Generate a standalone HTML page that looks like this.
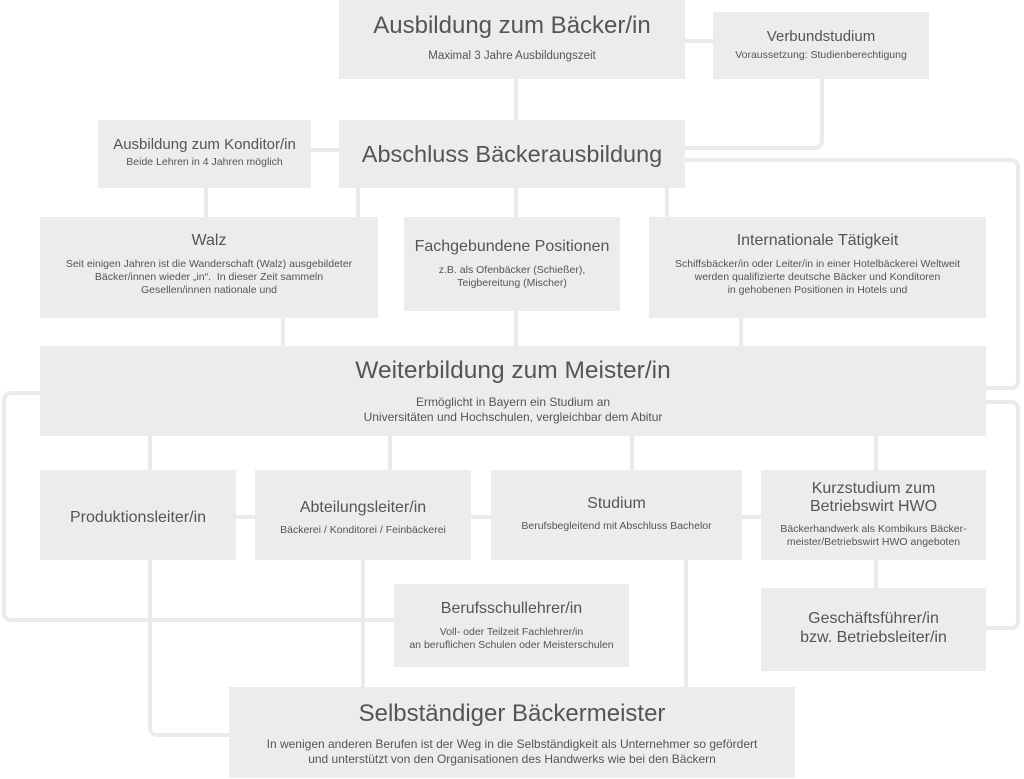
<!DOCTYPE html>
<html><head><meta charset="utf-8"><style>
body{margin:0;width:1024px;height:779px;background:#fff;position:relative;overflow:hidden;font-family:"Liberation Sans",sans-serif;color:#555}
.b{position:absolute;background:#ececec;text-align:center;box-sizing:border-box}
.t{font-size:16px;line-height:19px}
.s{font-size:10.5px;line-height:13px;color:#555}
svg{position:absolute;left:0;top:0}
</style></head><body>
<svg width="1024" height="779" fill="none" stroke="#ebebeb" stroke-width="4">
<path d="M516 79V120M685 41H713M822 79V140q0 8-8 8H685M311 150H339"/>
<path d="M685 160H1010q8 0 8 8V380q0 8-8 8H986"/>
<path d="M986 402H1010q8 0 8 8V620q0 8-8 8H986"/>
<path d="M40 393H12q-8 0-8 8V612q0 8 8 8H394"/>
<path d="M206 188V217M358 188V217M516 188V217M667 188V217M283 318V346M516 311V346M741 318V346"/>
<path d="M150 436V470M390 436V470M632 436V470M876 436V470"/>
<path d="M236 517H255M471 517H491M742 517H761"/>
<path d="M150 560V727q0 8 8 8H229M363 560V687M686 560V687M876 560V588"/>
</svg>
<div class="b" style="left:339px;top:0;width:346px;height:79px"><div style="font-size:24px;margin-top:12px">Ausbildung zum Bäcker/in</div><div class="s" style="margin-top:10px;font-size:11.5px">Maximal 3 Jahre Ausbildungszeit</div></div>
<div class="b" style="left:713px;top:12px;width:216px;height:67px"><div class="t" style="margin-top:15px;font-size:15px">Verbundstudium</div><div class="s" style="margin-top:3px">Voraussetzung: Studienberechtigung</div></div>
<div class="b" style="left:98px;top:120px;width:213px;height:68px"><div class="t" style="margin-top:15px;font-size:15px">Ausbildung zum Konditor/in</div><div class="s" style="margin-top:2px">Beide Lehren in 4 Jahren möglich</div></div>
<div class="b" style="left:339px;top:120px;width:346px;height:68px"><div style="font-size:23.5px;margin-top:21px">Abschluss Bäckerausbildung</div></div>
<div class="b" style="left:40px;top:217px;width:338px;height:101px"><div class="t" style="margin-top:14px">Walz</div><div class="s" style="margin-top:8px">Seit einigen Jahren ist die Wanderschaft (Walz) ausgebildeter<br>Bäcker/innen wieder „in“.&nbsp; In dieser Zeit sammeln<br>Gesellen/innen nationale und</div></div>
<div class="b" style="left:404px;top:217px;width:216px;height:94px"><div class="t" style="margin-top:20px">Fachgebundene Positionen</div><div class="s" style="margin-top:8px">z.B. als Ofenbäcker (Schießer),<br>Teigbereitung (Mischer)</div></div>
<div class="b" style="left:649px;top:217px;width:337px;height:101px"><div class="t" style="margin-top:14px">Internationale Tätigkeit</div><div class="s" style="margin-top:8px">Schiffsbäcker/in oder Leiter/in in einer Hotelbäckerei Weltweit<br>werden qualifizierte deutsche Bäcker und Konditoren<br>in gehobenen Positionen in Hotels und</div></div>
<div class="b" style="left:40px;top:346px;width:946px;height:90px"><div style="font-size:24.5px;margin-top:11px">Weiterbildung zum Meister/in</div><div class="s" style="margin-top:10px;font-size:12px;line-height:15px">Ermöglicht in Bayern ein Studium an<br>Universitäten und Hochschulen, vergleichbar dem Abitur</div></div>
<div class="b" style="left:40px;top:470px;width:196px;height:90px"><div class="t" style="margin-top:38px">Produktionsleiter/in</div></div>
<div class="b" style="left:255px;top:470px;width:216px;height:90px"><div class="t" style="margin-top:28px">Abteilungsleiter/in</div><div class="s" style="margin-top:7px">Bäckerei / Konditorei / Feinbäckerei</div></div>
<div class="b" style="left:491px;top:470px;width:251px;height:90px"><div class="t" style="margin-top:24px">Studium</div><div class="s" style="margin-top:7px">Berufsbegleitend mit Abschluss Bachelor</div></div>
<div class="b" style="left:761px;top:470px;width:225px;height:90px"><div class="t" style="margin-top:10px;line-height:18px">Kurzstudium zum<br>Betriebswirt HWO</div><div class="s" style="margin-top:7px">Bäckerhandwerk als Kombikurs Bäcker-<br>meister/Betriebswirt HWO angeboten</div></div>
<div class="b" style="left:394px;top:584px;width:235px;height:83px"><div class="t" style="margin-top:15px">Berufsschullehrer/in</div><div class="s" style="margin-top:8px">Voll- oder Teilzeit Fachlehrer/in<br>an beruflichen Schulen oder Meisterschulen</div></div>
<div class="b" style="left:761px;top:588px;width:225px;height:83px"><div class="t" style="margin-top:21px;line-height:19px">Geschäftsführer/in<br>bzw. Betriebsleiter/in</div></div>
<div class="b" style="left:229px;top:687px;width:566px;height:91px"><div style="font-size:24px;margin-top:13px">Selbständiger Bäckermeister</div><div class="s" style="margin-top:9px;font-size:12px;line-height:15px">In wenigen anderen Berufen ist der Weg in die Selbständigkeit als Unternehmer so gefördert<br>und unterstützt von den Organisationen des Handwerks wie bei den Bäckern</div></div>
</body></html>
